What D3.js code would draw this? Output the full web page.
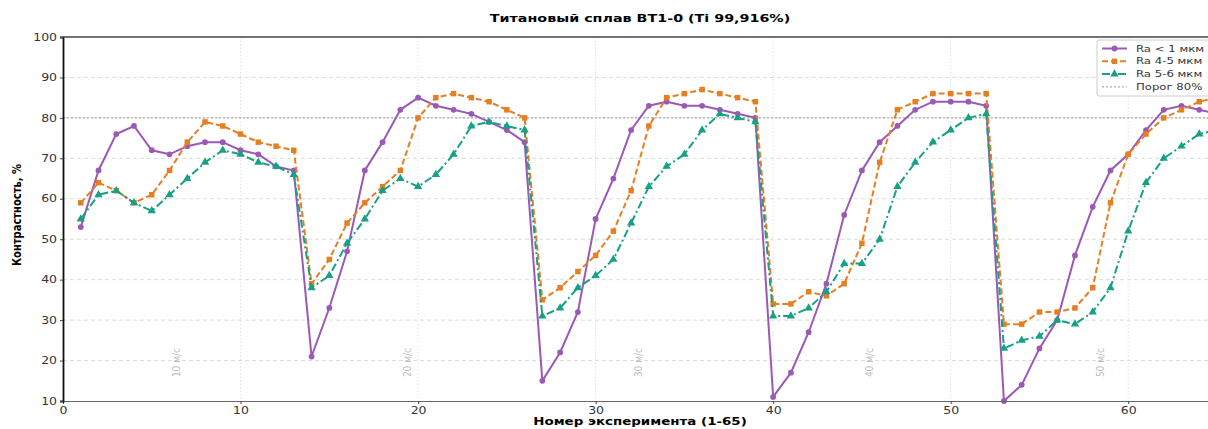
<!DOCTYPE html>
<html>
<head>
<meta charset="utf-8">
<script src="https://cdn.jsdelivr.net/npm/d3@7"></script>
<style>
  body { margin: 0; background: #fff; }
  svg { display: block; font-family: "DejaVu Sans", sans-serif; }
</style>
</head>
<body>
<div id="chart-area"></div>
<script>
// номера экспериментов 1..65
var experiments = d3.range(1, 66);

var raLow = [53, 67, 76, 78, 72, 71, 73, 74, 74, 72, 71, 68, 67,
             21, 33, 47, 67, 74, 82, 85, 83, 82, 81, 79, 77, 74,
             15, 22, 32, 55, 65, 77, 83, 84, 83, 83, 82, 81, 80,
             11, 17, 27, 39, 56, 67, 74, 78, 82, 84, 84, 84, 83,
             10, 14, 23, 30, 46, 58, 67, 71, 77, 82, 83, 82, 81];

var raMid = [59, 64, 62, 59, 61, 67, 74, 79, 78, 76, 74, 73, 72,
             39, 45, 54, 59, 63, 67, 80, 85, 86, 85, 84, 82, 80,
             35, 38, 42, 46, 52, 62, 78, 85, 86, 87, 86, 85, 84,
             34, 34, 37, 36, 39, 49, 69, 82, 84, 86, 86, 86, 86,
             29, 29, 32, 32, 33, 38, 59, 71, 76, 80, 82, 84, 85];

var raHigh = [55, 61, 62, 59, 57, 61, 65, 69, 72, 71, 69, 68, 66,
              38, 41, 49, 55, 62, 65, 63, 66, 71, 78, 79, 78, 77,
              31, 33, 38, 41, 45, 54, 63, 68, 71, 77, 81, 80, 79,
              31, 31, 33, 37, 44, 44, 50, 63, 69, 74, 77, 80, 81,
              23, 25, 26, 30, 29, 32, 38, 52, 64, 70, 73, 76, 77];

var seriesNames = ["Ra < 1 мкм", "Ra 4-5 мкм", "Ra 5-6 мкм"];
var speedLabels = ["10 м/с", "20 м/с", "30 м/с", "40 м/с", "50 м/с"];
var speedPos = [6.4, 19.4, 32.4, 45.4, 58.4];
var threshold = 80;
var xTicks = [0, 10, 20, 30, 40, 50, 60];
var yTicks = [10, 20, 30, 40, 50, 60, 70, 80, 90, 100];

var W = 1208, H = 429;
var margin = { left: 63, right: -9, top: 37, bottom: 28 };
var width = W - margin.left - margin.right,
    height = H - margin.top - margin.bottom;

// картинка слегка растянута по горизонтали
var sx = 1.25;

var svg = d3.select("#chart-area").append("svg")
    .attr("width", W)
    .attr("height", H);

var g = svg.append("g")
    .attr("transform", "translate(" + margin.left + "," + margin.top + ")");

var x = d3.scaleLinear().domain([0, 65]).range([0, width]);
var y = d3.scaleLinear().domain([10, 100]).range([height, 0]);

var colors = ["#9b59b6", "#e67e22", "#16a085"];
var dashes = [null, "6,3", "8,3,2,3"];

// сетка
g.append("g").selectAll("line")
    .data(yTicks.slice(1, -1))
    .enter().append("line")
      .attr("x1", 0).attr("x2", width)
      .attr("y1", function(d) { return y(d); })
      .attr("y2", function(d) { return y(d); })
      .attr("stroke", "#dcdcdc")
      .attr("stroke-dasharray", "4,3");

g.append("g").selectAll("line")
    .data(xTicks.slice(1))
    .enter().append("line")
      .attr("y1", 0).attr("y2", height)
      .attr("x1", function(d) { return x(d); })
      .attr("x2", function(d) { return x(d); })
      .attr("stroke", "#e2e2e2")
      .attr("stroke-dasharray", "1.5,2");

// подписи скоростей
g.append("g").selectAll("text")
    .data(speedLabels)
    .enter().append("text")
      .attr("transform", function(d, i) {
          return "translate(" + x(speedPos[i]) + "," + y(19.5) + ") rotate(-90) scale(1,1.2)";
      })
      .attr("text-anchor", "middle")
      .attr("dy", "0.35em")
      .attr("font-size", 9)
      .attr("fill", "#bdbdbd")
      .text(function(d) { return d; });

// порог
g.append("line")
    .attr("x1", 0).attr("x2", width)
    .attr("y1", y(threshold)).attr("y2", y(threshold))
    .attr("stroke", "#999")
    .attr("stroke-width", 1)
    .attr("stroke-dasharray", "2,2");

var series = [raLow, raMid, raHigh];

var line = d3.line()
    .x(function(d, i) { return x(experiments[i]); })
    .y(function(d) { return y(d); });

var symbols = [d3.symbolCircle, d3.symbolSquare, d3.symbolTriangle];
var symSizes = [26, 30, 30];

series.forEach(function(vals, k) {
    g.append("path")
        .datum(vals)
        .attr("fill", "none")
        .attr("stroke", colors[k])
        .attr("stroke-width", 2)
        .attr("stroke-dasharray", dashes[k])
        .attr("d", line);

    g.append("g").selectAll("path")
        .data(vals)
        .enter().append("path")
          .attr("transform", function(d, i) {
              return "translate(" + x(experiments[i]) + "," + y(d) + ")";
          })
          .attr("d", d3.symbol().type(symbols[k]).size(symSizes[k]))
          .attr("fill", colors[k]);
});

// оси
var xAxis = g.append("g")
    .attr("transform", "translate(0," + height + ")")
    .call(d3.axisBottom(x).tickValues(xTicks).tickSize(3).tickPadding(3));
xAxis.select(".domain").attr("stroke", "#666").attr("stroke-width", 1.2);
xAxis.selectAll(".tick line").attr("stroke", "#444");
xAxis.selectAll("text").attr("font-size", 10).attr("fill", "#333")
    .attr("font-family", "DejaVu Sans, sans-serif")
    .attr("transform", "scale(" + sx + ",1)");

var yAxis = g.append("g")
    .call(d3.axisLeft(y).tickValues(yTicks).tickSize(3).tickPadding(3));
yAxis.select(".domain").attr("stroke", "#111").attr("stroke-width", 1.8);
yAxis.selectAll(".tick line").attr("stroke", "#444");
yAxis.selectAll("text").attr("font-size", 10).attr("fill", "#333")
    .attr("font-family", "DejaVu Sans, sans-serif")
    .attr("x", -6 / sx)
    .attr("transform", "scale(" + sx + ",1)");

// верхняя рамка
g.append("line")
    .attr("x1", 0).attr("x2", width)
    .attr("y1", 0).attr("y2", 0)
    .attr("stroke", "#444")
    .attr("stroke-width", 1.5);

// заголовок и подписи осей
svg.append("text")
    .attr("transform", "translate(" + (margin.left + width / 2) + ",22) scale(1.3,1)")
    .attr("text-anchor", "middle")
    .attr("font-size", 11)
    .attr("font-weight", "bold")
    .text("Титановый сплав ВТ1-0 (Ti 99,916%)");

svg.append("text")
    .attr("transform", "translate(" + (margin.left + width / 2) + ",425) scale(1.22,1)")
    .attr("text-anchor", "middle")
    .attr("font-size", 11)
    .attr("font-weight", "bold")
    .text("Номер эксперимента (1-65)");

svg.append("text")
    .attr("transform", "translate(21," + (margin.top + height / 2 - 4) + ") rotate(-90) scale(0.95,1.2)")
    .attr("text-anchor", "middle")
    .attr("font-size", 10.5)
    .attr("font-weight", "bold")
    .text("Контрастность, %");

// легенда
var legend = svg.append("g")
    .attr("transform", "translate(1097,40)");

legend.append("rect")
    .attr("width", 130).attr("height", 56)
    .attr("rx", 2)
    .attr("fill", "#fff")
    .attr("fill-opacity", 0.85)
    .attr("stroke", "#ccc");

var legendItems = seriesNames.concat(["Порог 80%"]);
legendItems.forEach(function(name, i) {
    var row = legend.append("g")
        .attr("transform", "translate(0," + (8.5 + i * 12.8) + ")");
    if (i < 3) {
        row.append("line")
            .attr("x1", 5).attr("x2", 30)
            .attr("stroke", colors[i])
            .attr("stroke-width", 2)
            .attr("stroke-dasharray", dashes[i]);
        row.append("path")
            .attr("transform", "translate(17.5,0)")
            .attr("d", d3.symbol().type(symbols[i]).size(symSizes[i]))
            .attr("fill", colors[i]);
    } else {
        row.append("line")
            .attr("x1", 5).attr("x2", 30)
            .attr("stroke", "#999")
            .attr("stroke-dasharray", "2,2");
    }
    row.append("text")
        .attr("transform", "translate(39,0) scale(1.3,1)")
        .attr("dy", "0.35em")
        .attr("font-size", 9)
        .attr("fill", "#333")
        .text(name);
});
</script>
</body>
</html>
